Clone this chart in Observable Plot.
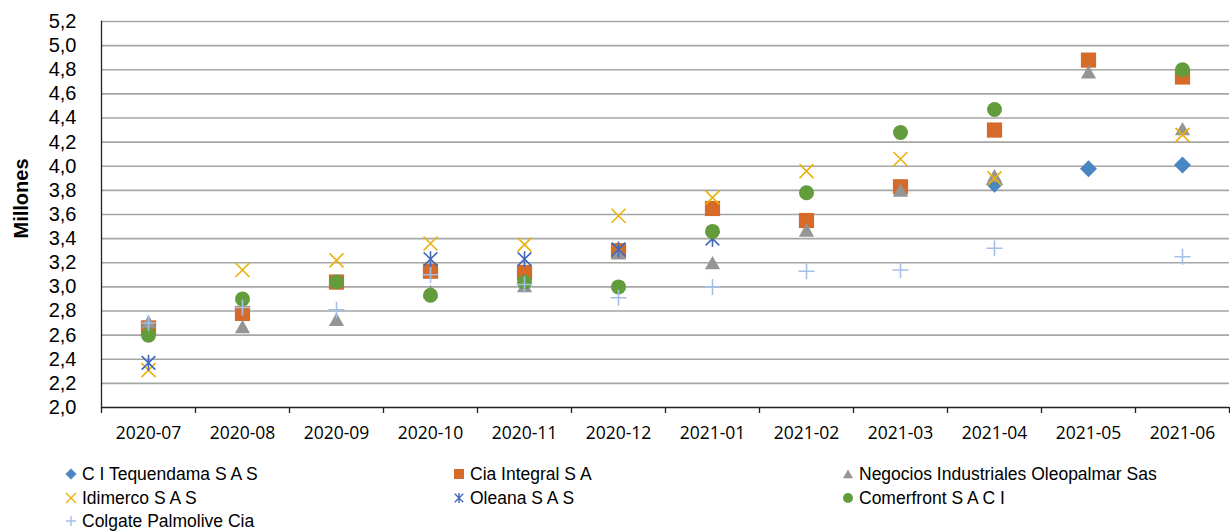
<!DOCTYPE html>
<html><head><meta charset="utf-8">
<script src="https://cdn.jsdelivr.net/npm/d3@7"></script>
<script src="https://cdn.jsdelivr.net/npm/@observablehq/plot@0.6"></script>
<style>
body{margin:0;background:#fff;}
#wrap{position:relative;width:1230px;height:532px;font-family:"Open Sans",sans-serif;overflow:hidden;}
#wrap svg.plot{position:absolute;left:0;top:0;}
.leg{position:absolute;height:20px;line-height:20px;display:flex;align-items:center;font-family:"Liberation Sans",Arial,sans-serif;font-size:17.5px;color:#000;white-space:nowrap;}
.leg svg{position:absolute;left:-18px;top:0px;}
</style></head><body><div id="wrap"></div>
<script>
// ---- data (millones) ----
const months = ["2020-07","2020-08","2020-09","2020-10","2020-11","2020-12","2021-01","2021-02","2021-03","2021-04","2021-05","2021-06"];
const yTicks = [2.0,2.2,2.4,2.6,2.8,3.0,3.2,3.4,3.6,3.8,4.0,4.2,4.4,4.6,4.8,5.0,5.2];
const seriesNames = ["C I Tequendama S A S","Cia Integral S A","Negocios Industriales Oleopalmar Sas","Idimerco S A S","Oleana S A S","Comerfront S A C I","Colgate Palmolive Cia"];
const tequendama = [null,null,null,null,null,null,null,null,null,3.85,3.98,4.01];
const ciaIntegral = [2.66,2.78,3.04,3.13,3.12,3.30,3.65,3.55,3.83,4.30,4.88,4.74];
const negocios = [2.71,2.67,2.73,2.96,3.01,3.28,3.20,3.47,3.80,3.92,4.78,4.31];
const idimerco = [2.31,3.14,3.22,3.36,3.35,3.59,3.74,3.96,4.06,3.90,null,4.26];
const oleana = [2.37,null,null,3.23,3.23,3.31,3.40,null,null,null,null,null];
const comerfront = [2.60,2.90,3.04,2.93,3.04,3.00,3.46,3.78,4.28,4.47,null,4.80];
const colgate = [2.70,2.83,2.81,3.10,3.02,2.91,3.00,3.13,3.14,3.32,null,3.25];
const seriesValues = [tequendama,ciaIntegral,negocios,idimerco,oleana,comerfront,colgate];
const seriesColors = ["#4a86c1","#d66a28","#959595","#ebb10a","#4169b8","#629c3b","#a3c0e8"];

// ---- custom marker shapes (size = pi*r^2) ----
const R = s => Math.sqrt(s/Math.PI);
const shapes = {
  diamond:{draw(c,s){const h=R(s);c.moveTo(0,-h);c.lineTo(h,0);c.lineTo(0,h);c.lineTo(-h,0);c.closePath();}},
  square:{draw(c,s){const h=R(s);c.moveTo(-h,-h);c.lineTo(h,-h);c.lineTo(h,h);c.lineTo(-h,h);c.closePath();}},
  triangle:{draw(c,s){const h=R(s);c.moveTo(0,-h*0.9);c.lineTo(h,h*0.85);c.lineTo(-h,h*0.85);c.closePath();}},
  times:{draw(c,s){const h=R(s);c.moveTo(-h,-h);c.lineTo(h,h);c.moveTo(-h,h);c.lineTo(h,-h);}},
  star:{draw(c,s){const h=R(s),d=h*0.85;c.moveTo(0,-h);c.lineTo(0,h);c.moveTo(-d,-d);c.lineTo(d,d);c.moveTo(-d,d);c.lineTo(d,-d);}},
  circle:{draw(c,s){const h=R(s);c.moveTo(h,0);c.arc(0,0,h,0,2*Math.PI);c.closePath();}},
  plus:{draw(c,s){const h=R(s);c.moveTo(-h,0);c.lineTo(h,0);c.moveTo(0,-h);c.lineTo(0,h);}}
};
const seriesShapes = ["diamond","square","triangle","times","star","circle","plus"];
const seriesR = [8.5,7.6,7.6,7,8,7.5,8];
const legendR = [5.5,5,5,5,5,5,5];
const filled = new Set(["diamond","square","triangle","circle"]);

const rows = [];
seriesNames.forEach((n,k)=>months.forEach((m,i)=>{const v=seriesValues[k][i]; if(v!=null) rows.push({month:m,name:n,value:v});}));

const fmt = d => d.toFixed(1).replace(".",",");

const dotMarks = seriesNames.map((n,k)=>{
  const sh = seriesShapes[k], col = seriesColors[k];
  const style = filled.has(sh) ? {fill:col, stroke:"none"} : {fill:"none", stroke:col, strokeWidth:1.6};
  return Plot.dot(rows.filter(d=>d.name===n), {x:"month", y:"value", symbol: shapes[sh], r: seriesR[k], ...style});
});

const chart = Plot.plot({
  width:1230, height:455,
  marginLeft:101, marginRight:1, marginTop:21, marginBottom:48,
  style:{fontFamily:"'Open Sans', sans-serif", background:"transparent", overflow:"visible"},
  x:{type:"band", domain:months, padding:0, axis:null, label:null},
  y:{domain:[2,5.2], axis:null, label:null},
  marks:[
    Plot.gridY(yTicks.slice(1), {stroke:"#a6a6a6", strokeOpacity:1, strokeWidth:1.6}),
    Plot.ruleY([2], {stroke:"#222", strokeWidth:1.3}),
    Plot.frame({anchor:"left", stroke:"#222", strokeWidth:1.3}),
    Plot.axisY(yTicks, {tickSize:0, tickPadding:25, tickFormat:fmt, fontSize:20, fontFamily:"'Liberation Sans', Arial, sans-serif", fill:"#000", label:null}),
    Plot.axisX(months, {tickSize:6, text:null, dx:-47, stroke:"#222", strokeWidth:1.3, label:null}),
    Plot.axisX(months.slice(-1), {tickSize:6, text:null, dx:47, stroke:"#222", strokeWidth:1.3, label:null}),
    Plot.axisX(months, {tickSize:0, tickPadding:19, fontSize:17.5, fill:"#000", label:null}),
    Plot.text(["Millones"], {frameAnchor:"left", textAnchor:"middle", dx:-80, dy:-16, rotate:-90, fontSize:20, fontWeight:"bold", fontFamily:"'Liberation Sans', Arial, sans-serif", fill:"#000"}),
    ...dotMarks
  ]
});
chart.classList.add("plot");
const wrap = document.getElementById("wrap");
wrap.appendChild(chart);

// ---- legend ----
const colX = [82,470,859];
const rowCY = [474,498,521];
seriesNames.forEach((n,k)=>{
  const col = k%3, row = Math.floor(k/3);
  const div = document.createElement("div");
  div.className = "leg";
  div.style.left = colX[col]+"px";
  div.style.top = (rowCY[row]-10)+"px";
  const sh = seriesShapes[k], c = seriesColors[k];
  const p = d3.path();
  shapes[sh].draw(p, Math.PI*legendR[k]*legendR[k]);
  const st = filled.has(sh) ? `fill="${c}" stroke="none"` : `fill="none" stroke="${c}" stroke-width="1.4"`;
  div.innerHTML = `<svg width="14" height="20" viewBox="-7 -10 14 20"><path d="${p.toString()}" ${st}/></svg><span>${n}</span>`;
  wrap.appendChild(div);
});
</script>
</body></html>
